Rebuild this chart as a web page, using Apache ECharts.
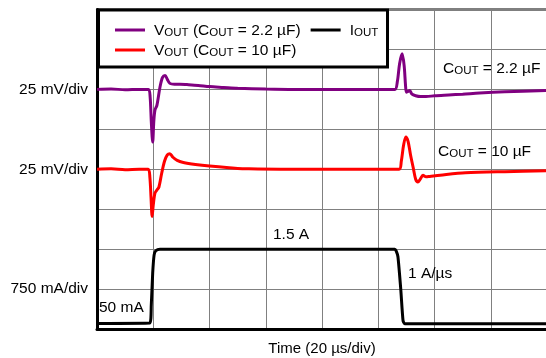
<!DOCTYPE html>
<html>
<head>
<meta charset="utf-8">
<script src="https://cdn.jsdelivr.net/npm/echarts@6/dist/echarts.min.js"></script>
<style>html,body{margin:0;padding:0;background:#fff;}#c{width:546px;height:358px;}</style>
</head>
<body>
<div id="c"></div>
<script>
// time in µs, values in scope divisions (0 = bottom of screen)
const vout22 = [[0,6.0],[5,6.01],[10,5.99],[15,6.0],[18.3,6.0],[18.9,5.8],[19.3,5.2],[19.8,4.68],[20.2,5.2],[20.6,5.48],[21.3,5.6],[22.4,6.06],[23.3,6.3],[24.2,6.35],[25,6.25],[25.9,6.15],[27.5,6.13],[29.5,6.13],[32,6.12],[36,6.1],[40,6.07],[45,6.05],[50,6.03],[60,6.01],[70,6.0],[80,6.0],[90,6.0],[100,6.0],[105.9,6.0],[106.8,6.2],[107.6,6.65],[108.5,6.89],[109.2,6.6],[109.7,6.1],[110,5.93],[110.6,5.95],[111.2,5.97],[112,5.88],[113.3,5.84],[115,5.82],[117,5.82],[120,5.84],[125,5.86],[130,5.88],[136,5.91],[145,5.94],[160,5.97]];
const vout10 = [[0,4.0],[5,4.01],[10,3.99],[15,4.0],[18.2,4.0],[18.8,3.8],[19.2,3.3],[19.6,2.82],[20.0,3.1],[20.6,3.4],[21.3,3.48],[22,3.55],[23,3.9],[24,4.2],[25,4.36],[25.9,4.39],[27,4.3],[28.5,4.22],[30.7,4.17],[35,4.12],[40,4.08],[47,4.04],[54,4.01],[70,4.0],[90,4.0],[107.4,4.0],[108.2,4.2],[109,4.6],[109.8,4.81],[110.6,4.7],[111.5,4.35],[112.4,4.05],[113.3,3.75],[114.1,3.68],[115,3.76],[115.9,3.85],[117,3.81],[118.3,3.82],[122,3.85],[131,3.91],[145,3.94],[160,3.96]];
const iout = [[0,0.14],[18.8,0.15],[19.3,0.6],[19.8,1.4],[20.3,1.85],[20.9,1.96],[22.4,2.0],[40,2.0],[80,2.0],[105.9,2.0],[106.4,1.95],[107,1.81],[108,1.0],[108.8,0.22],[109.4,0.13],[130,0.13],[160,0.13]];
const yTickLabels = {1:'750 mA/div', 4:'25 mV/div', 6:'25 mV/div'};
const xName = 'Time (20 µs/div)';

const FONT = '"Liberation Sans", Arial, sans-serif';
const rich = {
  a: {fontSize: 15.5, fontFamily: FONT, color: '#000', lineHeight: 18, verticalAlign: 'bottom'},
  s: {fontSize: 11.5, fontFamily: FONT, color: '#000', lineHeight: 11, verticalAlign: 'bottom'}
};
const names = {
  v22: 'VOUT (COUT = 2.2 µF)',
  v10: 'VOUT (COUT = 10 µF)',
  io: 'IOUT'
};
const legendFmt = {
  [names.v22]: '{a|V}{s|OUT}{a| (C}{s|OUT}{a| = 2.2 µF)}',
  [names.v10]: '{a|V}{s|OUT}{a| (C}{s|OUT}{a| = 10 µF)}',
  [names.io]: '{a|I}{s|OUT}'
};

const chart = echarts.init(document.getElementById('c'), null, {renderer: 'canvas'});
const legendCommon = {
  orient: 'horizontal', icon: 'rect', itemWidth: 30, itemHeight: 3, itemGap: 10,
  z: 10, selectedMode: false,
  formatter: n => legendFmt[n],
  textStyle: {rich: rich, padding: [0, 0, 0, 4]}
};
chart.setOption({
  animation: false,
  backgroundColor: '#fff',
  grid: {left: 97, top: 9.5, width: 450, height: 319.5, show: true, borderColor: '#000', borderWidth: 2,
    backgroundColor: 'transparent', containLabel: false, outerBoundsMode: 'none'},
  xAxis: {
    type: 'value', min: 0, max: 160, interval: 20,
    axisLine: {show: true, onZero: false, lineStyle: {color: '#000', width: 3}},
    axisTick: {show: false}, axisLabel: {show: false},
    splitLine: {show: true, lineStyle: {color: '#808080', width: 1}},
    name: xName, nameLocation: 'middle', nameGap: 12,
    nameTextStyle: {fontSize: 15, fontFamily: FONT, color: '#000'}
  },
  yAxis: {
    type: 'value', min: 0, max: 8, interval: 1,
    axisLine: {show: true, onZero: false, lineStyle: {color: '#000', width: 3}},
    axisTick: {show: false},
    axisLabel: {show: true, margin: 9, fontSize: 15.5, fontFamily: FONT, color: '#000',
      formatter: v => yTickLabels[v] || ''},
    splitLine: {show: true, lineStyle: {color: '#808080', width: 1}}
  },
  legend: [
    Object.assign({}, legendCommon, {left: 110, top: 18, data: [names.v22, names.io]}),
    Object.assign({}, legendCommon, {left: 110, top: 38, data: [names.v10]})
  ],
  graphic: [
    {type: 'rect', z: 5, shape: {x: 98.5, y: 10, width: 289, height: 57}, style: {fill: '#fff', stroke: '#000', lineWidth: 3}},
    {type: 'text', z: 6, left: 443, top: 61, style: {rich: rich, text: '{a|C}{s|OUT}{a| = 2.2 µF}'}},
    {type: 'text', z: 6, left: 438, top: 144, style: {rich: rich, text: '{a|C}{s|OUT}{a| = 10 µF}'}},
    {type: 'text', z: 6, left: 273, top: 227, style: {rich: rich, text: '{a|1.5 A}'}},
    {type: 'text', z: 6, left: 408, top: 266, style: {rich: rich, text: '{a|1 A/µs}'}},
    {type: 'text', z: 6, left: 99, top: 300, style: {rich: rich, text: '{a|50 mA}'}}
  ],
  series: [
    {name: names.v22, type: 'line', data: vout22, showSymbol: false, smooth: 0.3, z: 3, lineStyle: {color: '#800080', width: 3}, itemStyle: {color: '#800080'}},
    {name: names.v10, type: 'line', data: vout10, showSymbol: false, smooth: 0.3, z: 3, lineStyle: {color: '#ff0000', width: 3}, itemStyle: {color: '#ff0000'}},
    {name: names.io, type: 'line', data: iout, showSymbol: false, smooth: 0.2, z: 3, lineStyle: {color: '#000', width: 3}, itemStyle: {color: '#000'}}
  ]
});
</script>
</body>
</html>
